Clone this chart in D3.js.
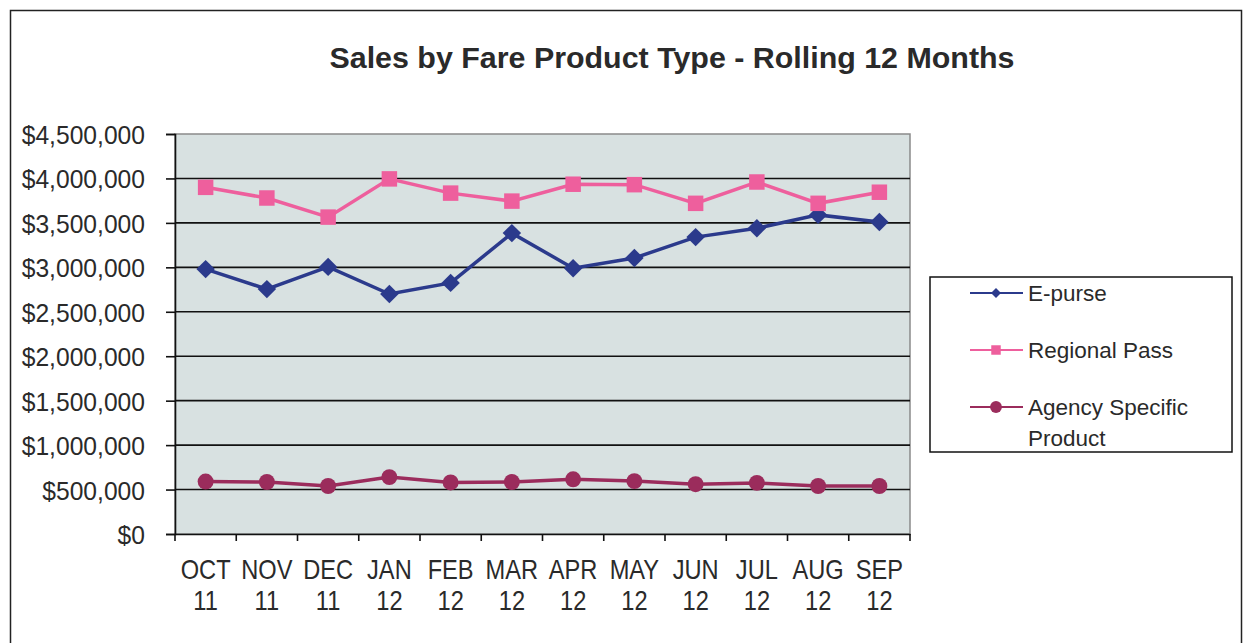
<!DOCTYPE html>
<html>
<head>
<meta charset="utf-8">
<script src="https://cdn.jsdelivr.net/npm/d3@7"></script>
<style>
  html, body { margin: 0; padding: 0; background: #ffffff; }
  svg { display: block; font-family: "Liberation Sans", Arial, sans-serif; }
</style>
</head>
<body>
<svg id="chart" width="1243" height="643"></svg>
<script>
// Monthly sales by fare product type, Oct 2011 – Sep 2012
const months = ["OCT", "NOV", "DEC", "JAN", "FEB", "MAR", "APR", "MAY", "JUN", "JUL", "AUG", "SEP"];
const years  = ["11", "11", "11", "12", "12", "12", "12", "12", "12", "12", "12", "12"];
const ePurse       = [2980000, 2755000, 3005000, 2700000, 2825000, 3385000, 2990000, 3105000, 3340000, 3440000, 3590000, 3510000];
const regionalPass = [3900000, 3780000, 3565000, 3995000, 3835000, 3745000, 3935000, 3930000, 3720000, 3960000, 3720000, 3845000];
const agencyProduct = [590000, 585000, 540000, 640000, 580000, 585000, 615000, 595000, 560000, 575000, 540000, 540000];
const yTicks = [0, 500000, 1000000, 1500000, 2000000, 2500000, 3000000, 3500000, 4000000, 4500000];

// square rotated 45° — a wider diamond than d3.symbolDiamond
const squareDiamond = {
  draw(ctx, size) {
    const r = Math.sqrt(size / 2);
    ctx.moveTo(0, -r); ctx.lineTo(r, 0); ctx.lineTo(0, r); ctx.lineTo(-r, 0); ctx.closePath();
  }
};

const series = [
  { name: "E-purse", values: ePurse, color: "#2b3a8c", symbol: squareDiamond, size: 170 },
  { name: "Regional Pass", values: regionalPass, color: "#ee5f9d", symbol: d3.symbolSquare, size: 240 },
  { name: "Agency Specific Product", values: agencyProduct, color: "#9b2c5c", symbol: d3.symbolCircle, size: 200 }
];

const svg = d3.select("#chart");
const plot = { left: 175, top: 134, right: 910, bottom: 534 };

// outer chart frame
svg.append("rect")
  .attr("x", 10.5).attr("y", 10.5).attr("width", 1231).attr("height", 650)
  .attr("fill", "#fff").attr("stroke", "#222").attr("stroke-width", 1.5);

// title
svg.append("text")
  .attr("x", 672).attr("y", 68)
  .attr("text-anchor", "middle")
  .attr("font-size", 29).attr("font-weight", "bold").attr("fill", "#2a2a2a")
  .attr("textLength", 685).attr("lengthAdjust", "spacingAndGlyphs")
  .text("Sales by Fare Product Type - Rolling 12 Months");

const x = d3.scaleBand().domain(months.map((m, i) => i)).range([plot.left, plot.right]).paddingInner(0).paddingOuter(0);
const y = d3.scaleLinear().domain([0, 4500000]).range([plot.bottom, plot.top]);

// plot background
svg.append("rect")
  .attr("x", plot.left).attr("y", plot.top)
  .attr("width", plot.right - plot.left).attr("height", plot.bottom - plot.top)
  .attr("fill", "#d8e1e1").attr("stroke", "#8a8a8a").attr("stroke-width", 1.5);

// gridlines
svg.append("g")
  .selectAll("line")
  .data(yTicks.filter(v => v > 0 && v < 4500000))
  .join("line")
  .attr("x1", plot.left).attr("x2", plot.right)
  .attr("y1", d => y(d)).attr("y2", d => y(d))
  .attr("stroke", "#111").attr("stroke-width", 1.6);

// y axis
const fmt = v => "$" + d3.format(",")(v);
const yAxis = svg.append("g")
  .attr("transform", `translate(${plot.left},0)`)
  .call(d3.axisLeft(y).tickValues(yTicks).tickFormat(fmt).tickSize(9).tickPadding(0));
yAxis.select(".domain").attr("stroke", "#111").attr("stroke-width", 1.6);
yAxis.selectAll(".tick line").attr("stroke", "#111").attr("stroke-width", 1.6);
yAxis.selectAll(".tick text")
  .attr("font-size", 26.5).attr("fill", "#2a2a2a").attr("font-family", "Liberation Sans, Arial, sans-serif")
  .attr("x", 0).attr("dy", "0.36em")
  .attr("transform", "translate(-30,0) scale(0.93,1)");

// x axis
const xAxis = svg.append("g")
  .attr("transform", `translate(0,${plot.bottom})`)
  .call(d3.axisBottom(x).tickSize(0).tickFormat(""));
xAxis.select(".domain").attr("stroke", "#111").attr("stroke-width", 1.6);
// category boundary ticks
svg.append("g")
  .selectAll("line")
  .data(d3.range(months.length + 1))
  .join("line")
  .attr("x1", i => plot.left + i * x.step()).attr("x2", i => plot.left + i * x.step())
  .attr("y1", plot.bottom).attr("y2", plot.bottom + 7)
  .attr("stroke", "#111").attr("stroke-width", 1.6);

const xl = svg.append("g").selectAll("g")
  .data(months.map((m, i) => ({ m, yr: years[i], i })))
  .join("g")
  .attr("transform", d => `translate(${x(d.i) + x.bandwidth() / 2},0) scale(0.86,1)`);
xl.append("text").attr("y", 579).attr("text-anchor", "middle")
  .attr("font-size", 27.5).attr("fill", "#2a2a2a").text(d => d.m);
xl.append("text").attr("y", 610).attr("text-anchor", "middle")
  .attr("font-size", 27.5).attr("fill", "#2a2a2a").text(d => d.yr);

// series lines and markers
const line = d3.line().x((d, i) => x(i) + x.bandwidth() / 2).y(d => y(d));
series.forEach(s => {
  svg.append("path").datum(s.values)
    .attr("d", line).attr("fill", "none")
    .attr("stroke", s.color).attr("stroke-width", 3.5);
  svg.append("g").selectAll("path")
    .data(s.values)
    .join("path")
    .attr("transform", (d, i) => `translate(${x(i) + x.bandwidth() / 2},${y(d)})`)
    .attr("d", d3.symbol().type(s.symbol).size(s.size))
    .attr("fill", s.color);
});

// legend
const lg = svg.append("g");
lg.append("rect").attr("x", 930).attr("y", 277).attr("width", 302).attr("height", 175)
  .attr("fill", "#fff").attr("stroke", "#111").attr("stroke-width", 1.5);
const legendRows = [
  { s: series[0], y: 293, lines: ["E-purse"], size: 50 },
  { s: series[1], y: 350, lines: ["Regional Pass"], size: 90 },
  { s: series[2], y: 407, lines: ["Agency Specific", "Product"], size: 110 }
];
legendRows.forEach(r => {
  lg.append("line").attr("x1", 970).attr("x2", 1023).attr("y1", r.y).attr("y2", r.y)
    .attr("stroke", r.s.color).attr("stroke-width", 2);
  lg.append("path").attr("transform", `translate(996,${r.y})`)
    .attr("d", d3.symbol().type(r.s.symbol).size(r.size)).attr("fill", r.s.color);
  r.lines.forEach((t, k) => {
    lg.append("text").attr("x", 1028).attr("y", r.y + 8 + k * 31)
      .attr("font-size", 22.5).attr("fill", "#2a2a2a").text(t);
  });
});
</script>
</body>
</html>
